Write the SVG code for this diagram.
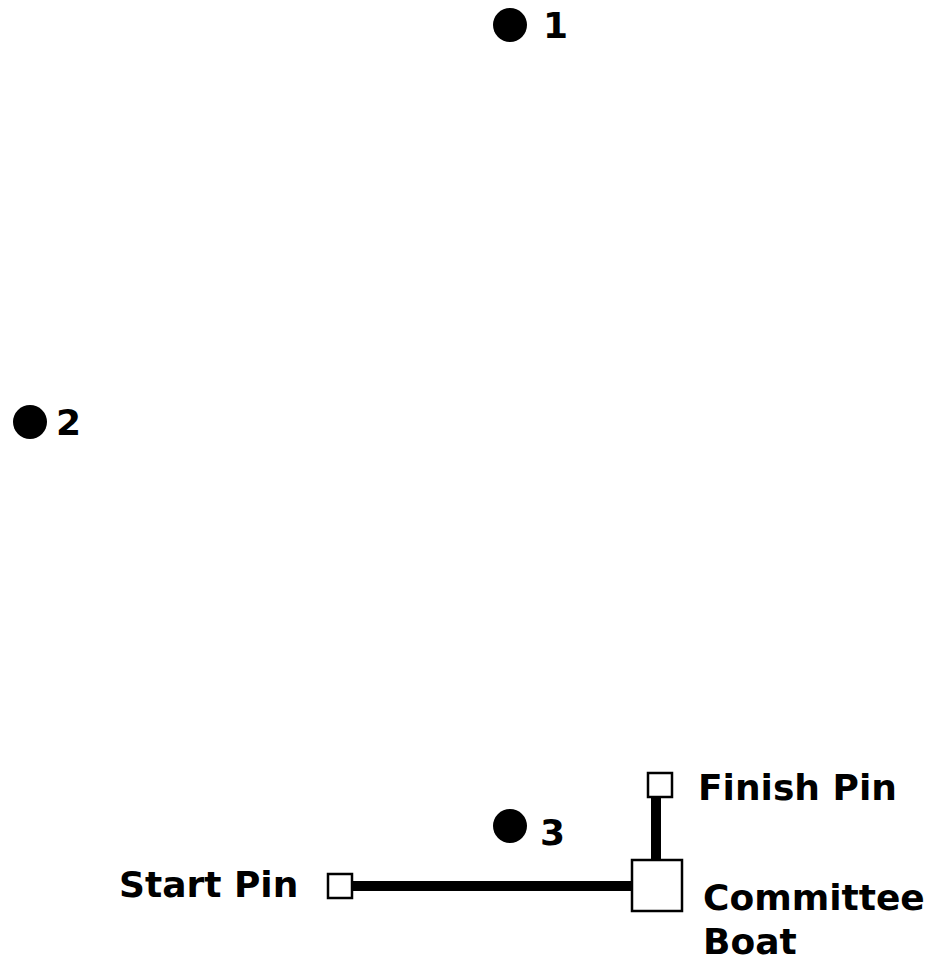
<svg xmlns="http://www.w3.org/2000/svg" width="938" height="961" viewBox="0 0 938 961">
<style>
.lbl{font-family:"DejaVu Sans",sans-serif;font-weight:bold;font-size:36px;fill:#000}
.mark{fill:#000}
.pin{fill:#fff;stroke:#000;stroke-width:2.5}
.line{stroke:#000;stroke-width:10;fill:none}
</style>
<rect width="938" height="961" fill="#fff"/>
<g id="connectors">
<line class="line" x1="352" y1="886" x2="632" y2="886"/>
<line class="line" x1="656" y1="797" x2="656" y2="860"/>
</g>
<g id="mark1"><circle class="mark" cx="510" cy="25" r="17"/><text class="lbl" x="543" y="38">1</text></g>
<g id="mark2"><circle class="mark" cx="30" cy="422" r="17"/><text class="lbl" x="56" y="435">2</text></g>
<g id="mark3"><circle class="mark" cx="510" cy="826" r="17"/><text class="lbl" x="540" y="845">3</text></g>
<g id="startpin"><rect class="pin" x="328" y="874" width="24" height="24"/><text class="lbl" x="119" y="897">Start Pin</text></g>
<g id="finishpin"><rect class="pin" x="648" y="773" width="24" height="24"/><text class="lbl" x="698" y="800">Finish Pin</text></g>
<g id="committee"><rect class="pin" x="632" y="860" width="50" height="51"/><text class="lbl" x="703" y="910">Committee</text><text class="lbl" x="703" y="954">Boat</text></g>
</svg>
